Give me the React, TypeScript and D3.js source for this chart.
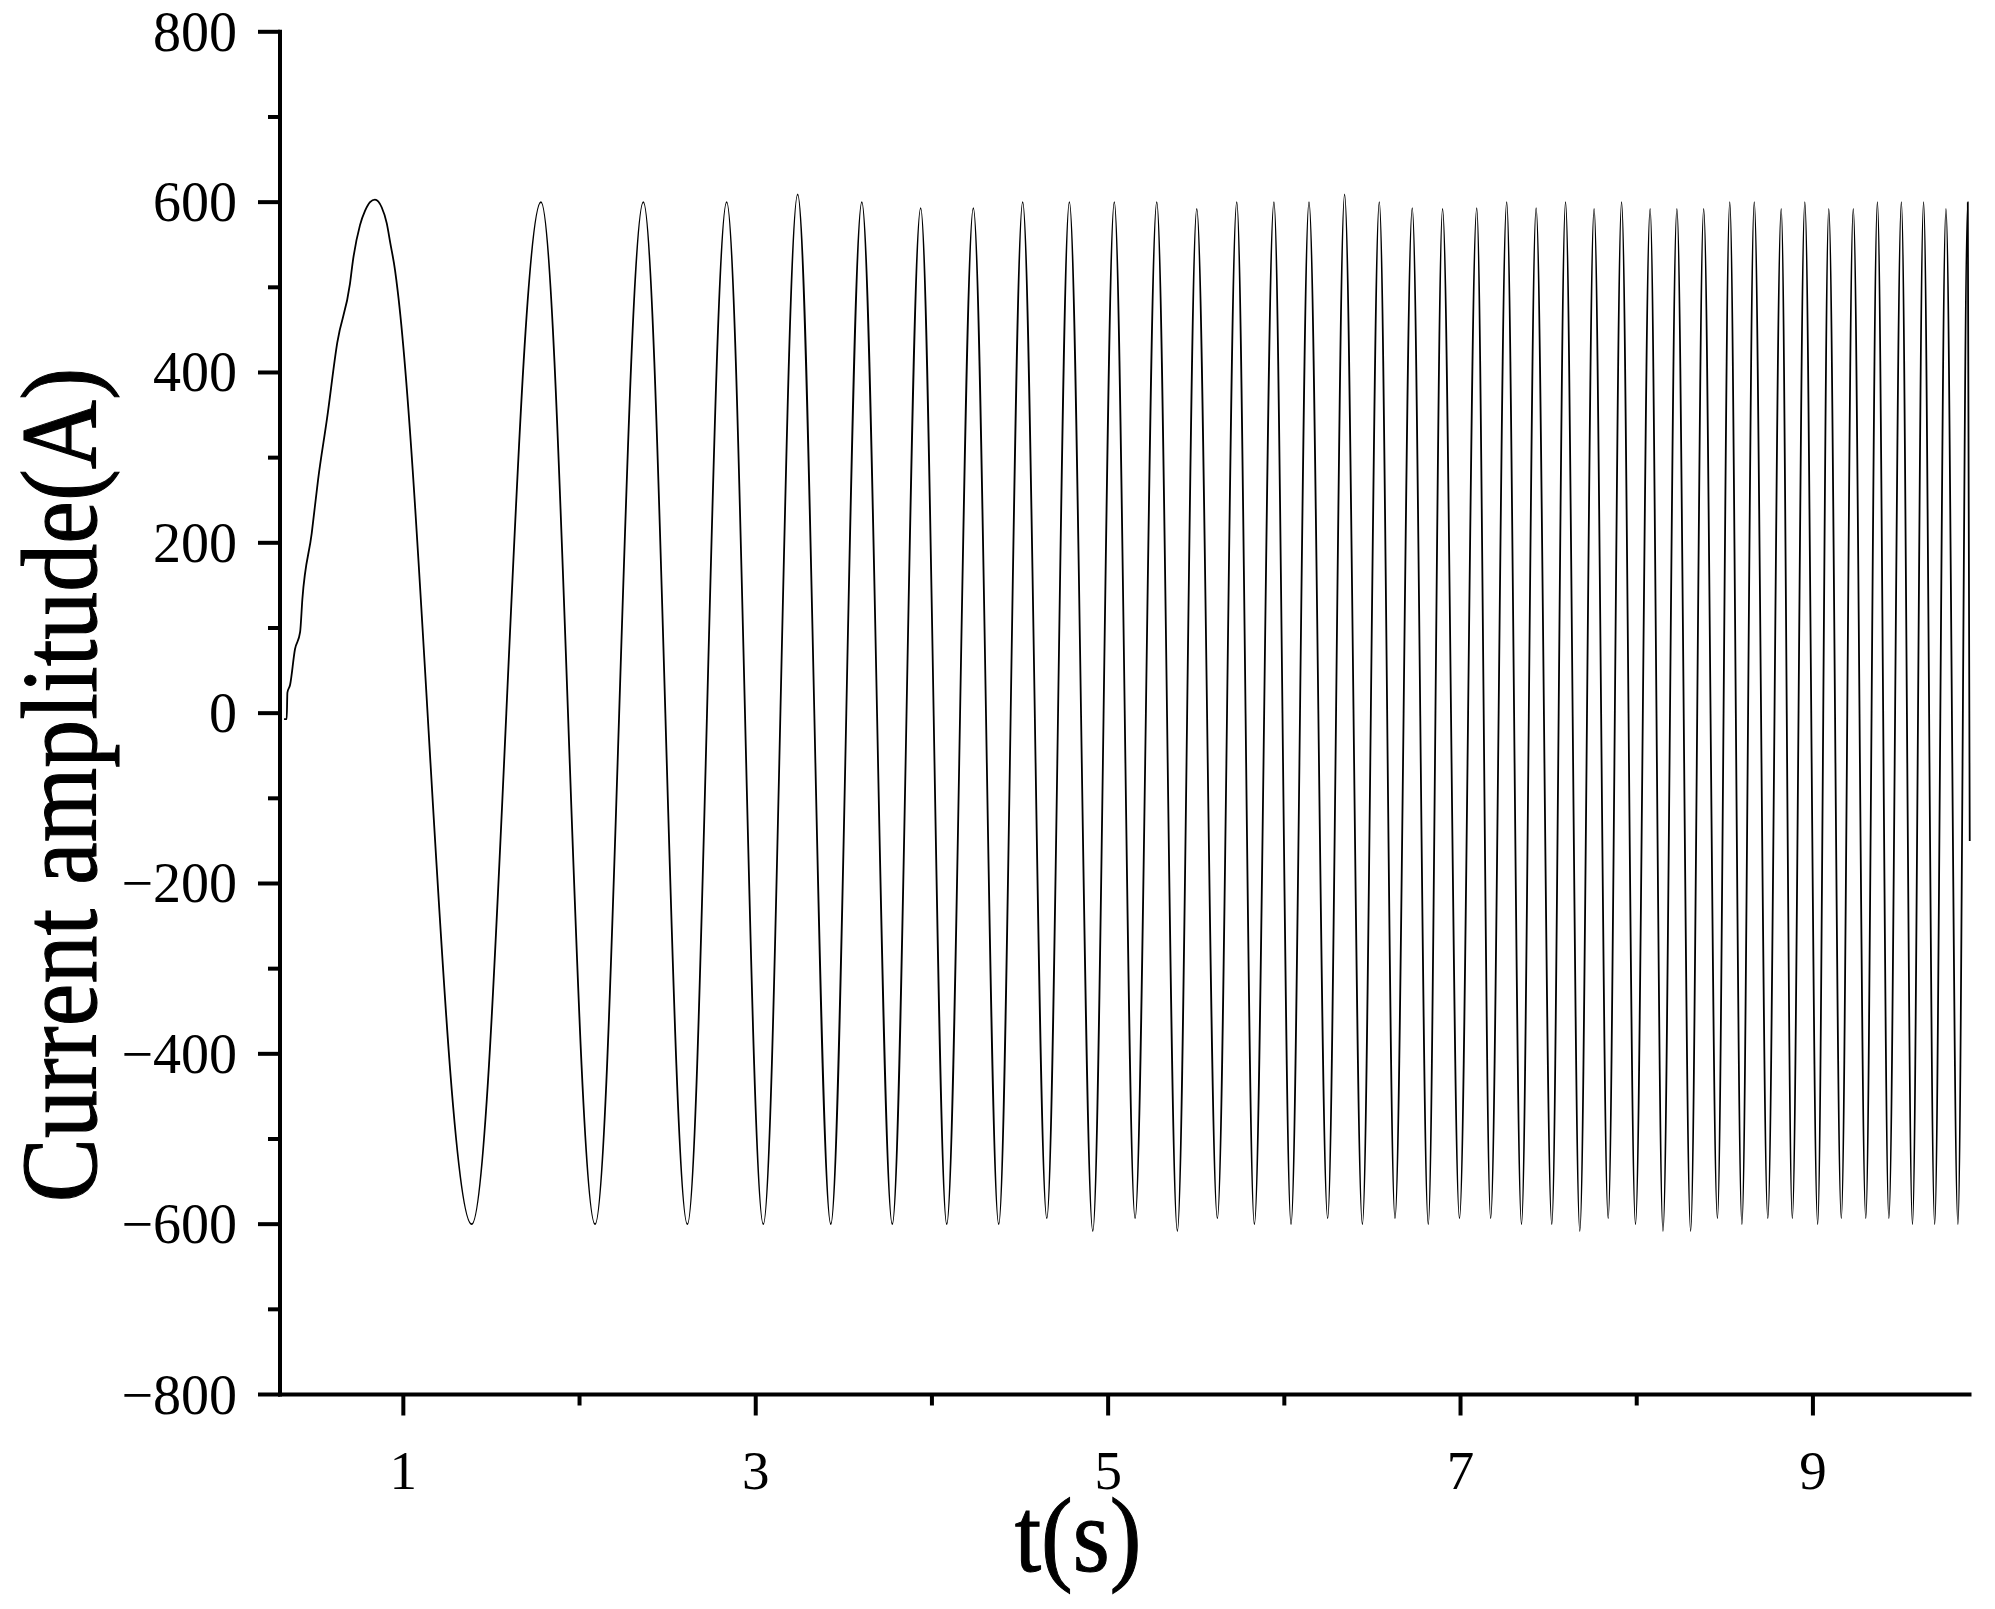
import React from 'react';
import * as d3 from 'd3';

const W = 1995;
const H = 1609;

// start of the record and the first (slow) lobe
const lobeT = [0.323, 0.338, 0.342, 0.357, 0.385, 0.414, 0.427, 0.48, 0.516, 0.567, 0.625, 0.697, 0.713, 0.754, 0.783, 0.811, 0.877, 0.906, 0.925, 0.953, 0.963];
const lobeV = [-7, -7, 24, 33, 75, 95, 134, 211, 274, 346, 435, 504, 530, 573, 590, 600, 594, 575, 553, 520, 504];

// positive peaks (time, amplitude)
const peakT = [0.839, 1.781, 2.362, 2.835, 3.238, 3.602, 3.936, 4.235, 4.515, 4.78, 5.035, 5.276, 5.503, 5.73, 5.941, 6.14, 6.342, 6.539, 6.726, 6.898, 7.092, 7.262, 7.429, 7.596, 7.758, 7.914, 8.076, 8.228, 8.38, 8.528, 8.667, 8.82, 8.954, 9.09, 9.229, 9.366, 9.502, 9.628, 9.755, 9.879];
const peakV = [603, 600, 600, 600, 609, 600, 593, 593, 600, 600, 600, 600, 592, 600, 600, 600, 609, 600, 593, 592, 593, 600, 593, 600, 592, 600, 592, 592, 592, 600, 600, 592, 600, 592, 592, 600, 600, 600, 592, 600];

// negative troughs (time, amplitude)
const troughT = [1.388, 2.088, 2.612, 3.043, 3.426, 3.775, 4.084, 4.379, 4.652, 4.913, 5.153, 5.393, 5.62, 5.83, 6.038, 6.246, 6.443, 6.628, 6.817, 6.994, 7.171, 7.346, 7.518, 7.677, 7.838, 7.993, 8.149, 8.306, 8.458, 8.597, 8.744, 8.883, 9.027, 9.161, 9.3, 9.431, 9.565, 9.691, 9.823];
const troughV = [-600, -600, -600, -600, -600, -600, -600, -600, -593, -608, -593, -608, -593, -600, -600, -593, -600, -593, -600, -593, -593, -600, -600, -608, -593, -600, -608, -608, -593, -600, -593, -593, -600, -593, -593, -593, -600, -600, -600];

// last recorded sample
const endT = [9.89];
const endV = [-150];

const xMajorTicks = [1, 3, 5, 7, 9];
const xMinorTicks = [2, 4, 6, 8];
const yMajorTicks = [-800, -600, -400, -200, 0, 200, 400, 600, 800];
const yMinorTicks = [-700, -500, -300, -100, 100, 300, 500, 700];

const xTitle = 't(s)';
const yTitle = 'Current amplitude(A)';

const FONT = '"Times New Roman", "Liberation Serif", "DejaVu Serif", serif';

export default function App() {
  const x = d3.scaleLinear().domain([0.3, 9.9]).range([280, 1971.5]);
  const y = d3.scaleLinear().domain([-800, 800]).range([1394.5, 31.8]);

  const pts: [number, number][] = [];
  lobeT.forEach((t, i) => pts.push([t, lobeV[i]]));
  peakT.forEach((t, i) => pts.push([t, peakV[i]]));
  troughT.forEach((t, i) => pts.push([t, troughV[i]]));
  endT.forEach((t, i) => pts.push([t, endV[i]]));
  pts.sort((a, b) => a[0] - b[0]);

  const line = d3
    .line<[number, number]>()
    .x((d) => x(d[0]))
    .y((d) => y(d[1]))
    .curve(d3.curveMonotoneX);

  const x0 = x.range()[0];
  const x1 = x.range()[1];
  const yb = y.range()[0];
  const yt = y.range()[1];

  const fmt = (v: number) => (v < 0 ? '\u2212' + Math.abs(v) : String(v));

  return (
    <svg
      width={W}
      height={H}
      viewBox={`0 0 ${W} ${H}`}
      style={{ position: 'absolute', left: 0, top: 0, background: '#fff' }}
    >
      <rect x={0} y={0} width={W} height={H} fill="#fff" />
      <path d={line(pts) || ''} fill="none" stroke="#000" strokeWidth={1.8} strokeLinejoin="round" />

      {/* axes */}
      <line x1={x0} x2={x0} y1={yt - 2} y2={yb + 2} stroke="#000" strokeWidth={4} />
      <line x1={x0 - 2} x2={x1} y1={yb} y2={yb} stroke="#000" strokeWidth={4} />

      {yMajorTicks.map((v) => (
        <g key={'ym' + v}>
          <line x1={x0 - 22} x2={x0} y1={y(v)} y2={y(v)} stroke="#000" strokeWidth={4} />
          <text
            x={x0 - 43}
            y={y(v)}
            dominantBaseline="central"
            textAnchor="end"
            fontFamily={FONT}
            fontSize={56}
            fill="#000"
          >
            {fmt(v)}
          </text>
        </g>
      ))}
      {yMinorTicks.map((v) => (
        <line key={'yn' + v} x1={x0 - 12} x2={x0} y1={y(v)} y2={y(v)} stroke="#000" strokeWidth={4} />
      ))}

      {xMajorTicks.map((v) => (
        <g key={'xm' + v}>
          <line x1={x(v)} x2={x(v)} y1={yb} y2={yb + 21} stroke="#000" strokeWidth={4} />
          <text x={x(v)} y={1489} textAnchor="middle" fontFamily={FONT} fontSize={55} fill="#000">
            {fmt(v)}
          </text>
        </g>
      ))}
      {xMinorTicks.map((v) => (
        <line key={'xn' + v} x1={x(v)} x2={x(v)} y1={yb} y2={yb + 11} stroke="#000" strokeWidth={4} />
      ))}

      <text
        transform="translate(1078, 1571) scale(0.95, 1.05)"
        textAnchor="middle"
        fontFamily={FONT}
        fontSize={100}
        fill="#000"
        stroke="#000"
        strokeWidth={1}
      >
        {xTitle}
      </text>
      <text
        transform="translate(96, 785) rotate(-90) scale(1, 1.12)"
        textAnchor="middle"
        fontFamily={FONT}
        fontSize={96}
        fill="#000"
        stroke="#000"
        strokeWidth={1}
      >
        {yTitle}
      </text>
    </svg>
  );
}
